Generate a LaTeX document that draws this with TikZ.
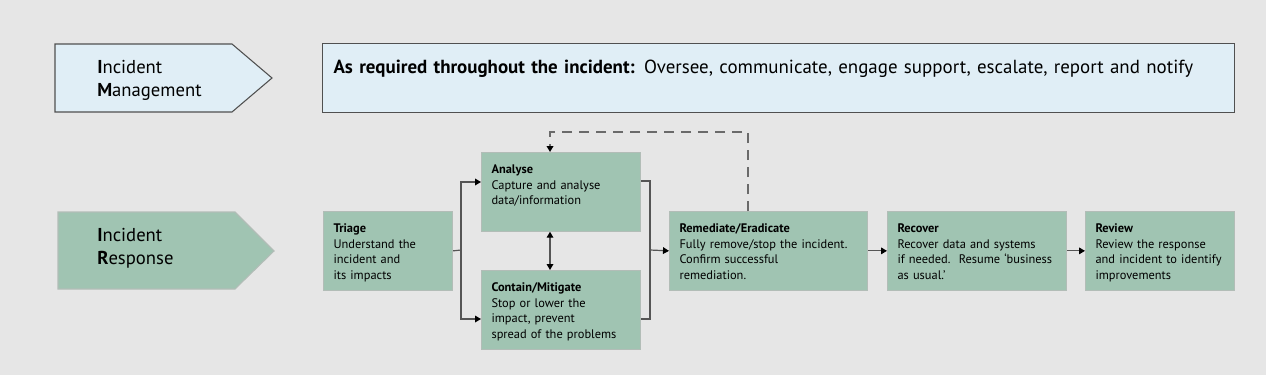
\documentclass[tikz,border=0pt]{standalone}
\usepackage{fontspec}
\setmainfont{PT Sans}
\usetikzlibrary{arrows.meta,calc}
\definecolor{pagegray}{HTML}{E6E6E6}
\definecolor{stagegreen}{HTML}{A0C4B2}
\definecolor{stageedge}{HTML}{B2BDB7}
\definecolor{paleblue}{HTML}{E0EEF6}
\definecolor{darkedge}{HTML}{505050}
\definecolor{linegray}{HTML}{555555}
\definecolor{dashgray}{HTML}{6A6A6A}
\tikzset{
  stage/.style={draw=stageedge, fill=stagegreen, line width=0.8pt, anchor=north west, align=left,
    text width=#1, inner xsep=7.5pt, inner ysep=0pt, text height=16pt, text depth=43pt,
    font=\fontsize{9.3}{11.6}\selectfont},
  tag/.style={anchor=base west, inner sep=0pt, align=left, text width=3cm, font=\fontsize{14}{17.25}\selectfont},
  arr/.style={-{Triangle[length=4.5pt,width=5pt,color=black]}, line width=0.9pt, draw=linegray},
  dbl/.style={{Triangle[length=4.5pt,width=5pt,color=black]}-{Triangle[length=4.5pt,width=5pt,color=black]}, line width=0.9pt, draw=linegray},
  link/.style={line width=0.9pt, draw=linegray},
}

\begin{document}
\begin{tikzpicture}[x=0.75pt, y=-0.75pt]
        \fill[pagegray] (0,0) rectangle (1266,375);
        \useasboundingbox (0,0) rectangle (1266,375);
        % the two row headers
        \draw[draw=darkedge, fill=paleblue, line width=0.8pt] (55,44) -- (232,44) -- (272,78) -- (232,112) -- (55,112) -- cycle;
        \draw[draw=stageedge, fill=stagegreen, line width=0.8pt] (58,212) -- (235,212) -- (274,251) -- (235,289) -- (58,289) -- cycle;
        \node[tag] (imtag) at (97,73) {\textbf{I}ncident\\\textbf{M}anagement};
        \node[tag] (irtag) at (97,241) {\textbf{I}ncident\\\textbf{R}esponse};
        \node[draw=darkedge, fill=paleblue, line width=0.8pt, anchor=north west, align=left, text width=667.5pt,
          inner xsep=8.25pt, inner ysep=0pt, text height=22.5pt, text depth=29.25pt,
          font=\fontsize{14.2}{16}\selectfont] (oversight) at (322,43)
          {\textbf{As required throughout the incident:} Oversee, communicate, engage support, escalate, report and notify};
        % response stages
        \node[stage=81.75pt] (triage) at (323,211) {\textbf{Triage}\\Understand the\\incident and\\its impacts};
        \node[stage=104.25pt] (analyse) at (481,152) {\textbf{Analyse}\\Capture and analyse\\data/information};
        \node[stage=104.25pt] (contain) at (481,270) {\textbf{Contain/Mitigate}\\Stop or lower the\\impact, prevent\\spread of the problems};
        \node[stage=133.5pt] (remediate) at (669,211) {\textbf{Remediate/Eradicate}\\Fully remove/stop the incident.\\Confirm successful\\remediation.};
        \node[stage=119.25pt] (recover) at (887,211) {\textbf{Recover}\\Recover data and systems\\if needed.\ \ Resume ‘business\\as usual.’};
        \node[stage=96.75pt] (review) at (1085,211) {\textbf{Review}\\Review the response\\and incident to identify\\improvements};
        \coordinate (split) at (461,250);
        \coordinate (merge) at (650,250);
        \draw[link] (triage.east) -- (split);
        \draw[arr] (split) |- ($(analyse.north west)+(0,30)$);
        \draw[arr] (split) |- ($(contain.north west)+(0,49)$);
        \draw[link] ($(analyse.north east)+(0,29)$) -| (merge) |- ($(contain.north east)+(0,49)$);
        \draw[arr] (merge) -- (remediate.west);
        \draw[arr] (remediate.east) -- (recover.west);
        \draw[arr] (recover.east) -- (review.west);
        \draw[dbl] ($(analyse.south west)+(69,0)$) -- ($(contain.north west)+(69,0)$);
        \draw[arr, draw=dashgray, line width=1.1pt, dash pattern=on 7.5pt off 5.25pt]
          ($(remediate.north west)+(79,0)$) -- ++(0,-79) -| ($(analyse.north west)+(69,0)$);
      \end{tikzpicture}
\end{document}
